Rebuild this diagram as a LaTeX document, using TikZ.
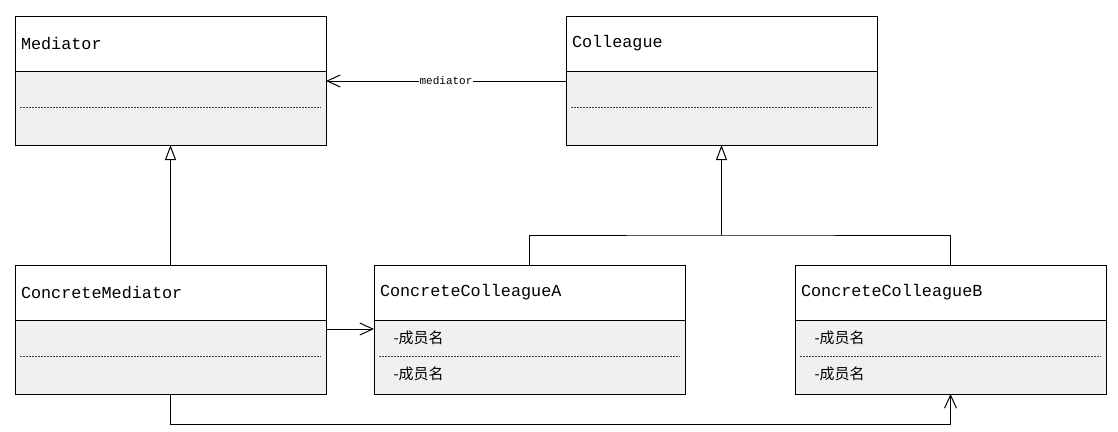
\documentclass[tikz,border=0pt]{standalone}
\usepackage{fontspec}
\setmainfont{Liberation Mono}
\newfontfamily\cjk{Noto Sans CJK SC}
\usetikzlibrary{positioning, calc, arrows.meta}

\begin{document}
\begin{tikzpicture}[x=1pt, y=-1pt, line width=1pt,
	head/.style={draw, fill=white, anchor=north west, outer sep=0pt, minimum width=311pt, minimum height=55pt,
		inner xsep=6pt, text width=299pt, align=left, font=\fontsize{16.8}{18}\selectfont},
	body/.style={draw, fill=black!6, outer sep=0pt, minimum width=311pt, minimum height=74pt},
	sep/.style={black!75, line width=0.8pt, dash pattern=on 2pt off 1pt},
	member/.style={anchor=west, inner sep=0pt, font=\cjk\fontsize{15}{17}\selectfont},
	open/.style={-{Straight Barb[length=13pt, width=12pt, line width=1pt]}},
	inh/.style={-{Triangle[open, fill=white, length=15pt, width=11pt, line width=1pt]}}]
\useasboundingbox (0, 0) rectangle (1118, 431);
% classes
\node[head] (med) at (15, 16) {Mediator};
\node[body, below=0pt of med] (medb) {};
\node[head] (col) at (566, 16) {Colleague};
\node[body, below=0pt of col] (colb) {};
\node[head] (cm) at (15, 265) {ConcreteMediator};
\node[body, below=0pt of cm] (cmb) {};
\node[head] (ca) at (374, 265) {ConcreteColleagueA};
\node[body, below=0pt of ca] (cab) {};
\node[head] (cb) at (795, 265) {ConcreteColleagueB};
\node[body, below=0pt of cb] (cbb) {};
\foreach \b in {medb, colb, cmb, cab, cbb}
	\draw[sep] ($(\b.north west)+(5, 36)$) -- ($(\b.north east)+(-5, 36)$);
\foreach \b/\m in {cab/a, cbb/b} {
	\node[member] (\m1) at ($(\b.north west)+(19, 18)$) {-成员名};
	\node[member] (\m2) at ($(\b.north west)+(19, 54)$) {-成员名};
}
% relations
\draw[open] ($(colb.north west)+(0, 10)$) -- node[fill=white, inner sep=1pt, font=\fontsize{11}{12}\selectfont] (lbl) {mediator} ($(medb.north east)+(0, 10)$);
\draw[inh] (cm.north) -- (medb.south);
\coordinate (j) at ($(colb.south)+(0, 90)$);
\draw[inh] (j) -- (colb.south);
\draw (ca.north) |- (j) -| (cb.north);
\draw[open] ($(cmb.north east)+(0, 9)$) -- ($(cab.north west)+(0, 9)$);
\draw[open] (cmb.south) -- ++(0, 30) -| (cbb.south);
\end{tikzpicture}
\end{document}
